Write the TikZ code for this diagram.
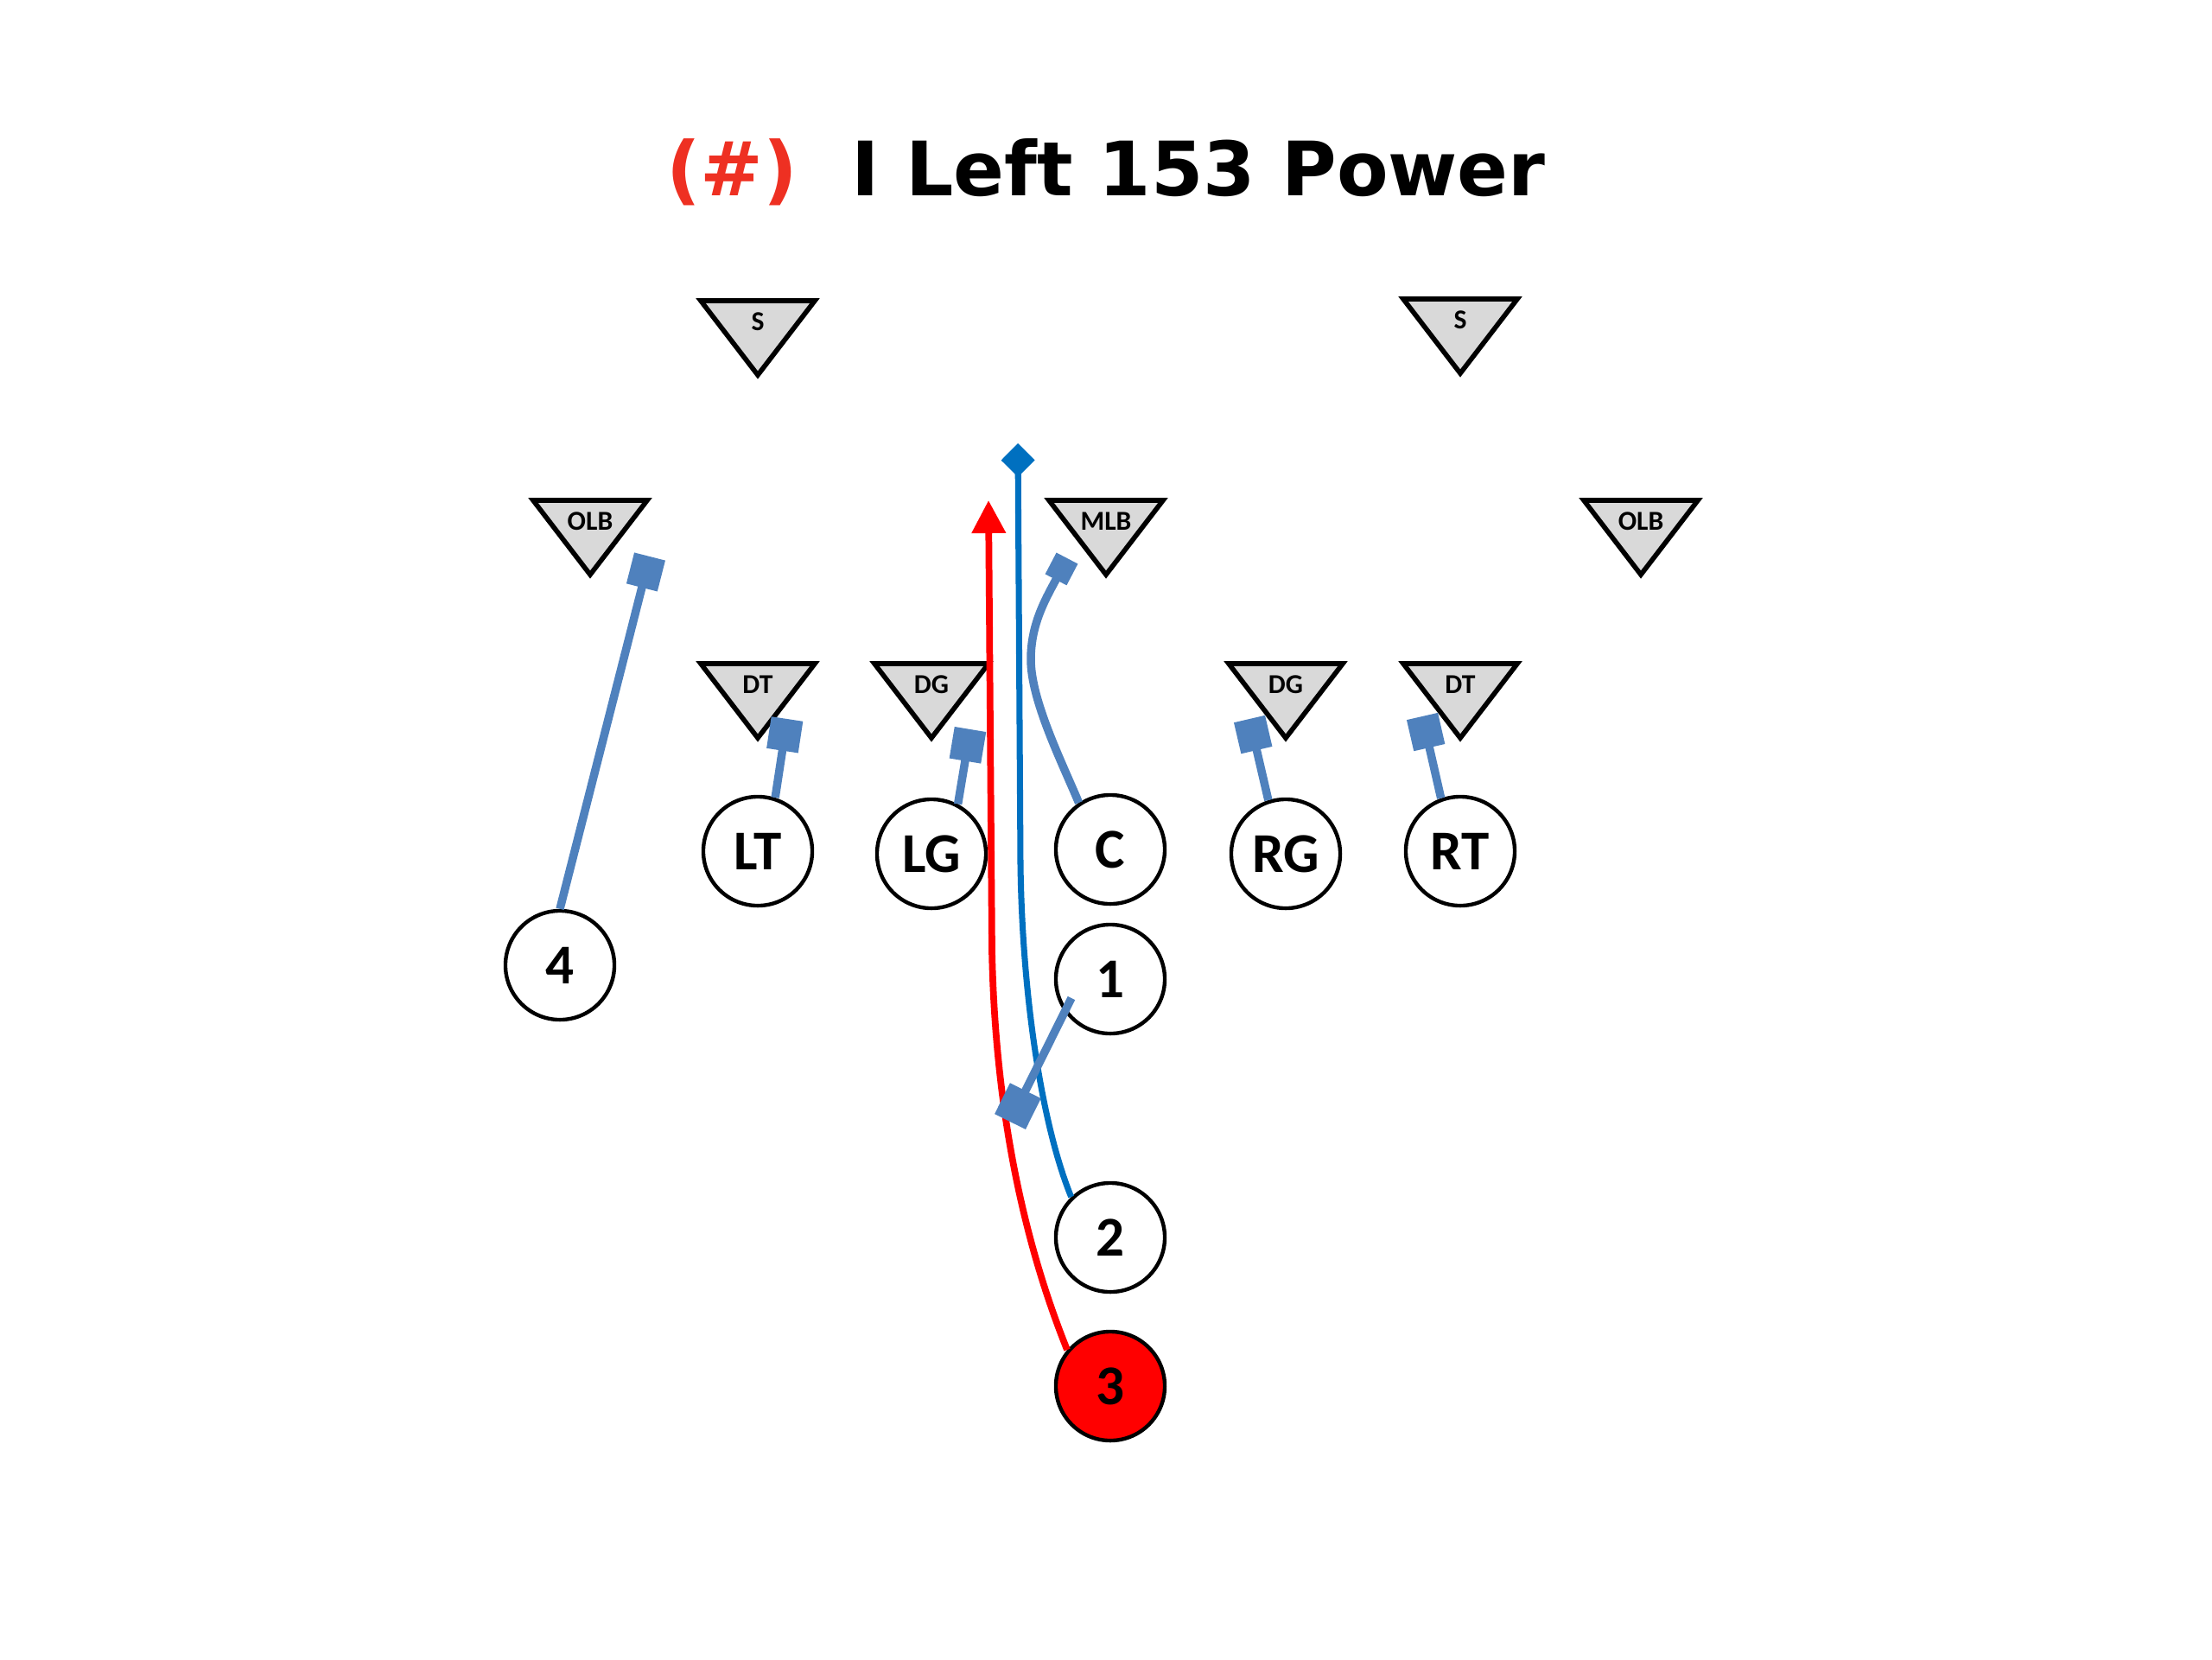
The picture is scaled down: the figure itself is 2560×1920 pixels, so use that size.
\documentclass[tikz,border=0pt]{standalone}
\usepackage{fontspec}
\setmainfont{Carlito}
\newfontfamily\titlefont{DejaVu Sans}
\usetikzlibrary{arrows.meta}
\definecolor{blockblue}{RGB}{79,129,189}
\definecolor{leadblue}{RGB}{0,112,192}
\definecolor{runred}{RGB}{255,0,0}
\definecolor{titlered}{RGB}{238,48,34}
\definecolor{dgray}{RGB}{217,217,217}

\begin{document}
\begin{tikzpicture}[x=0.01cm, y=-0.01cm,
    player/.style={circle, draw, line width=1.25pt, minimum size=1.26cm, inner sep=0pt,
      font=\bfseries\fontsize{18.5}{18.5}\selectfont},
    dlabel/.style={font=\bfseries\fontsize{9}{9}\selectfont, inner sep=0pt},
    dshape/.style={draw, fill=dgray, line width=1.6pt, line join=miter},
    defender/.pic={\draw[dshape] (-66,0) -- (66,0) -- (0,86) -- cycle;},
    blockline/.style={blockblue, line width=2.7pt, -{Square[length=3.7mm, width=3.7mm]}},
  ]
  \useasboundingbox (0,0) rectangle (2560,1920);

  % Title
  \node[anchor=base, font=\titlefont\bfseries\fontsize{24.7}{24.7}\selectfont] (title) at (1280,226)
    {\textcolor{titlered}{(\#)}\hspace{0.62cm}I Left 153 Power};

  % Defense: safeties
  \pic at (877,348) {defender};
  \node[dlabel] (sl) at (877,372) {S};
  \pic at (1690,346) {defender};
  \node[dlabel] (sr) at (1690,370) {S};

  % Defense: linebackers
  \pic at (683,579) {defender};
  \node[dlabel] (olbl) at (683,603) {OLB};
  \pic at (1280,579) {defender};
  \node[dlabel] (mlb) at (1280,603) {MLB};
  \pic at (1899,579) {defender};
  \node[dlabel] (olbr) at (1899,603) {OLB};

  % Defense: front
  \pic at (877,768) {defender};
  \node[dlabel] (dtl) at (877,792) {DT};
  \pic at (1078,768) {defender};
  \node[dlabel] (dgl) at (1078,792) {DG};
  \pic at (1488,768) {defender};
  \node[dlabel] (dgr) at (1488,792) {DG};
  \pic at (1690,768) {defender};
  \node[dlabel] (dtr) at (1690,792) {DT};

  % Offense: line
  \node[player] (lt) at (877,985) {LT};
  \node[player] (lg) at (1078,988) {LG};
  \node[player] (ctr) at (1285,983) {C};
  \node[player] (rg) at (1488,988) {RG};
  \node[player] (rt) at (1690,985) {RT};

  % Offense: backs and end
  \node[player] (b4) at (648,1117) {4};
  \node[player] (b1) at (1285,1133) {1};
  \node[player] (b2) at (1285,1432) {2};
  \node[player, fill=runred] (b3) at (1285,1604) {3};

  % Lead path of 2
  \draw[leadblue, line width=2pt, -{Diamond[length=3.9mm, width=3.9mm]}]
    (b2.134) .. controls (1205,1300) and (1183,1150) .. (1181,1000) -- (1178,513);

  % Ball carrier 3
  \draw[runred, line width=2.2pt, -{Triangle[length=3.8mm, width=3.8mm]}]
    (b3.140) .. controls (1190,1450) and (1152,1300) .. (1148,1100) -- (1144,579);

  % Blocks
  \draw[blockline] (b4.north) -- (752,644);
  \draw[blockline] (lt.72) -- (911,832);
  \draw[blockline] (lg.62) -- (1123,844);
  \draw[blockline] (rg.108) -- (1446,832);
  \draw[blockline] (rt.110) -- (1646,829);
  \draw[blockline, -{Square[length=2.8mm, width=2.8mm]}]
    (ctr.124) .. controls (1228,880) and (1193,810) .. (1193,763)
    .. controls (1193,720) and (1212,690) .. (1235,646);
  \draw[blockline, -{Square[length=4mm, width=4mm]}]
    ([shift={(-45,22)}]b1.center) -- (1169,1298);
\end{tikzpicture}
\end{document}
